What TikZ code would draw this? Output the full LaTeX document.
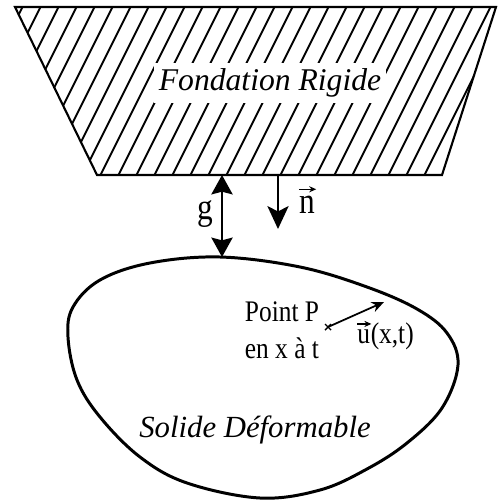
\documentclass[tikz,border=0pt]{standalone}
\usepackage{fontspec}
\setmainfont{Liberation Serif}
\newfontfamily\narrowfont[FakeStretch=0.85]{Liberation Serif}
\usetikzlibrary{arrows.meta, calc}

\tikzset{
    gap arrow/.style={line width=1.5pt, {Stealth[length=11pt,width=12pt,inset=1.5pt]}-{Stealth[length=11pt,width=12pt,inset=1.5pt]}},
    normal arrow/.style={line width=1.5pt, -{Stealth[length=13pt,width=12pt,inset=3pt]}},
    vec arrow/.style={line width=0.7pt, -{Stealth[length=4pt,width=3.5pt]}},
    hatch line/.style={line width=1.1pt},
    label text/.style={inner sep=0pt, font=\narrowfont\fontsize{21}{22}\selectfont},
}

\begin{document}
\begin{tikzpicture}[x=0.02cm, y=-0.02cm]
    \useasboundingbox (0,0) rectangle (498,504);

    % rigid foundation outline points
    \coordinate (tl) at (15,7);
    \coordinate (tr) at (496,7);
    \coordinate (br) at (442,175);
    \coordinate (bl) at (97,175);
    % hatching
    \begin{scope}
        \clip (tl) -- (tr) -- (br) -- (bl) -- cycle;
        \foreach \x in {-92,-74,...,500}
            \draw[hatch line] (\x,200) -- ++(100,-200);
    \end{scope}
    \draw[line width=1.2pt] (tl) -- (tr) -- (br) -- (bl) -- cycle;
    \node[fill=white, inner sep=3pt, font=\fontsize{18}{20}\selectfont\itshape] (found) at (270,83) {Fondation Rigide};

    % deformable solid
    \draw[line width=1.7pt] plot[smooth cycle, tension=0.6] coordinates {
        (220,257) (300,267) (367,287) (417,309) (447,333) (458,365)
        (442,408) (407,443) (367,469) (320,490) (260,498) (187,483)
        (140,457) (100,417) (77,380) (68,337) (73,307) (100,280) (150,263)};
    \node[font=\fontsize{17.5}{20}\selectfont\itshape] (solid) at (255,430) {Solide Déformable};

    % gap between foundation and solid
    \coordinate (gtop) at (222,175);
    \coordinate (gbot) at (222,257);
    \draw[gap arrow] (gtop) -- (gbot);
    \node[label text, anchor=base] (glabel) at (205,219) {g};
    % outward normal
    \coordinate (ntail) at (278,175);
    \coordinate (nhead) at (278,229);
    \draw[normal arrow] (ntail) -- (nhead);
    \node[label text, anchor=base] (nlabel) at (307,213) {n};
    \draw[vec arrow] ($(nlabel.north west)+(0,-6)$) -- ($(nlabel.north east)+(1,-6)$);

    % point P and displacement
    \node[align=left, font=\narrowfont\fontsize{17}{21}\selectfont] (ptext) at (282,330) {Point P\\en x à t};
    \coordinate (P) at (328,327);
    \coordinate (utip) at (384,302);
    \draw[line width=0.8pt] ($(P)+(-3,-3)$) -- ($(P)+(3,3)$) ($(P)+(-3,3)$) -- ($(P)+(3,-3)$);
    \draw[line width=1pt, -{Stealth[length=7pt,width=6pt]}] (P) -- (utip);
    \node[inner sep=0pt, anchor=base west, font=\narrowfont\fontsize{17}{18}\selectfont] (uletter) at (357,343) {u};
    \node[inner sep=0pt, anchor=base west, font=\narrowfont\fontsize{17}{18}\selectfont] (uargs) at (uletter.base east) {(x,t)};
    \draw[vec arrow] ($(uletter.north west)+(0,-5)$) -- ($(uletter.north east)+(1,-5)$);

\end{tikzpicture}
\end{document}
